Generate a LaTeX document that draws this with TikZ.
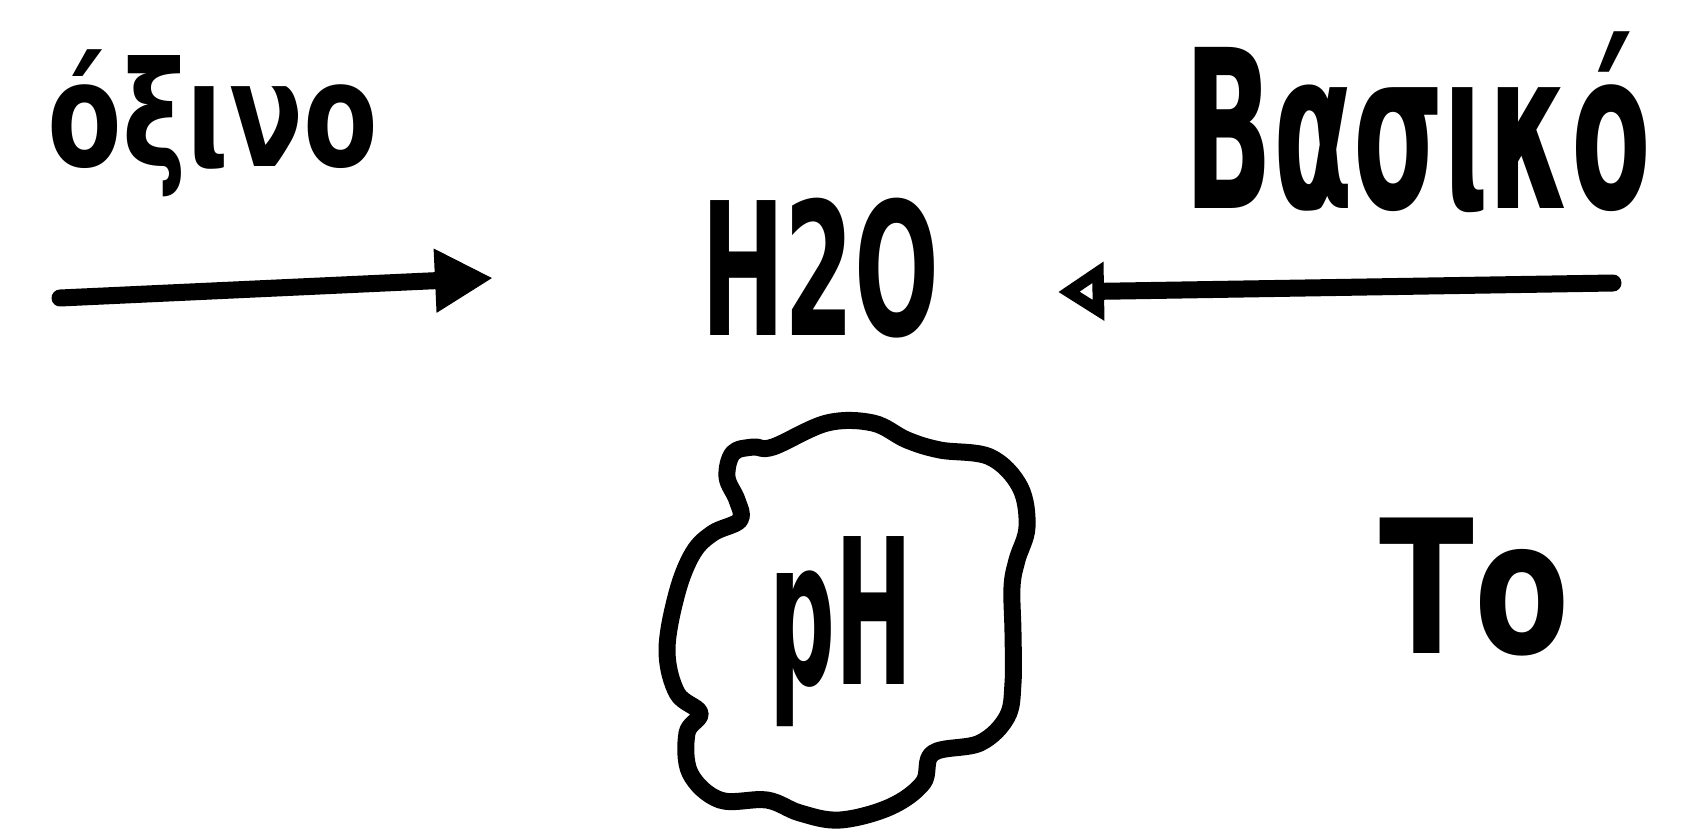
\documentclass[tikz,border=0pt]{standalone}
\usepackage{fontspec}
\setmainfont{DejaVu Sans}
\usepackage{graphicx}
\usetikzlibrary{arrows.meta}
\tikzset{
  ink/.style={line width=17pt, line cap=round, line join=round, black},
  lbl/.style={inner sep=0pt, outer sep=0pt, anchor=center, font=\bfseries},
}
\begin{document}
\begin{tikzpicture}[x=1pt,y=-1pt]
\useasboundingbox[fill=white] (0,0) rectangle (1692,831);
% texts
\node[lbl] (acid) at (213,123) {\resizebox*{330pt}{147pt}{όξινο}};
\node[lbl] (base) at (1418,122) {\resizebox*{466pt}{181pt}{Βασικό}};
\node[lbl] (water) at (820,268) {\resizebox*{238pt}{140pt}{H2O}};
\node[lbl] (ph) at (841,632) {\resizebox*{143pt}{190pt}{pH}};
\node[lbl] (to) at (1475,587) {\resizebox*{190pt}{138pt}{Το}};
% arrows
\coordinate (a1) at (60,298);
\coordinate (a2) at (493,278);
\coordinate (b1) at (1613,283);
\coordinate (b2) at (1058,292);
\draw[ink, -{Triangle[length=58pt,width=60pt]}] (a1) -- (a2);
\draw[ink, -{Triangle[open,length=46pt,width=56pt]}] (b1) -- (b2);
% cloud
\draw[ink] plot[smooth cycle, tension=0.6] coordinates {
 (773,447) (827,423) (873,423) (907,440) (940,450) (990,457) (1020,487)
 (1027,527) (1017,560) (1012,587) (1013,633) (1013,683) (1007,717)
 (980,743) (933,753) (923,783) (890,807) (840,820) (800,813) (767,800)
 (720,800) (690,773) (687,733) (700,713) (677,693) (667,650) (677,593)
 (693,553) (713,533) (740,520) (737,500) (727,477) (733,453) (753,447)};
\end{tikzpicture}
\end{document}
